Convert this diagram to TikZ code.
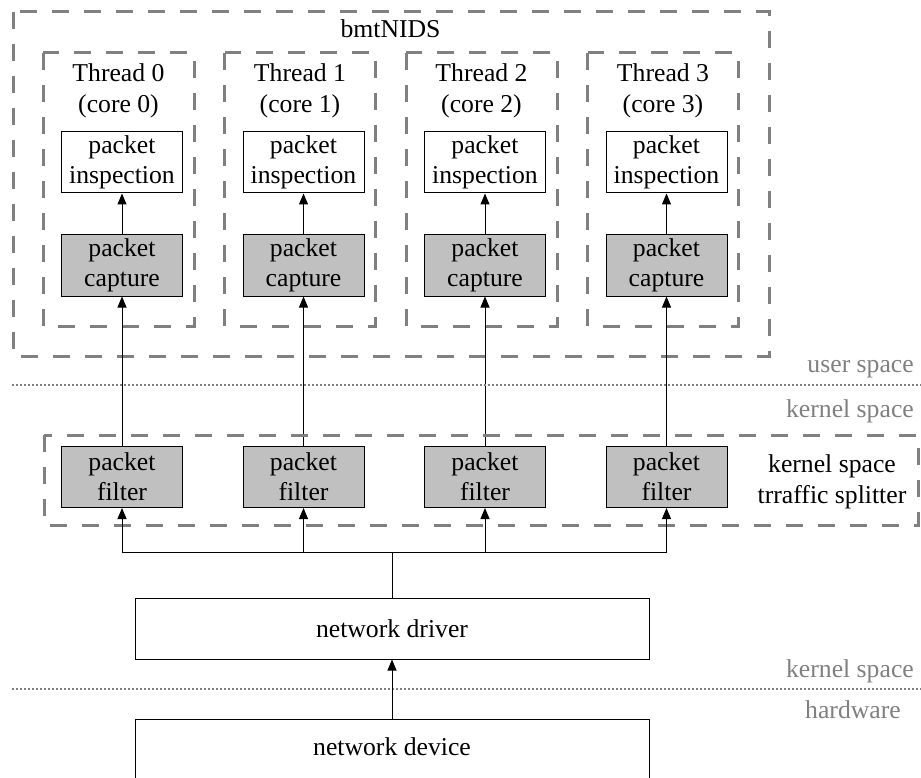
\documentclass[tikz,border=0pt]{standalone}
\usepackage{fontspec}
\setmainfont{Liberation Serif}
\usetikzlibrary{arrows.meta}
\definecolor{dashgray}{RGB}{128,128,128}
\definecolor{boxfill}{RGB}{192,192,192}
\begin{document}
\begin{tikzpicture}[x=1pt,y=-1pt,
  font=\fontsize{25.7}{30}\selectfont,
  box/.style={draw, line width=1pt, minimum width=121pt, minimum height=61pt, inner sep=0pt, align=center},
  graybox/.style={box, fill=boxfill},
  group/.style={draw=dashgray, line width=3pt, dash pattern=on 17pt off 15pt},
  sepline/.style={draw=dashgray, line width=2pt, dash pattern=on 2pt off 2pt},
  lbl/.style={text=dashgray, inner sep=0pt},
  thr/.style={align=center, inner sep=0pt, font=\fontsize{25.7}{31}\selectfont},
  arr/.style={-{Triangle[length=11pt,width=9pt]}, line width=1pt}]
\useasboundingbox (0,0) rectangle (921,778);
\clip (0,0) rectangle (921,778);

% outer bmtNIDS group
\draw[group] (13,12) rectangle (769,356);
\node[anchor=base, inner sep=0pt] (nids) at (390.5,38) {bmtNIDS};

% thread groups
\foreach \i in {0,1,2,3} {
  \pgfmathsetmacro{\tx}{43+181.5*\i}
  \pgfmathsetmacro{\cx}{122+181.5*\i}
  \pgfmathsetmacro{\lx}{118.5+181.5*\i}
  \draw[group] (\tx,53) rectangle ({\tx+151},326);
  \node[thr] (t\i) at (\lx,91) {Thread \i\\(core \i)};
  \node[box] (ins\i) at (\cx,162.5) {packet\\inspection};
  \node[graybox] (cap\i) at (\cx,265.5) {packet\\capture};
  \node[graybox] (fil\i) at (\cx,477) {packet\\filter};
  \draw[arr] (cap\i.north) -- (ins\i.south);
  \draw[arr] (fil\i.north) -- (cap\i.south);
}

% kernel space traffic splitter group
\draw[group] (44,435) rectangle (918,525);
\node[thr] (split) at (832,481.5) {kernel space\\trraffic splitter};

% separators
\draw[sepline] (12,385) -- (921,385);
\draw[sepline] (12,689) -- (921,689);
\node[lbl, anchor=base east] (us) at (914,372) {user space};
\node[lbl, anchor=base east] (ks1) at (914,417) {kernel space};
\node[lbl, anchor=base east] (ks2) at (914,677) {kernel space};
\node[lbl, anchor=base] (hw) at (853,718) {hardware};

% network driver and device
\node[box, minimum width=514pt] (drv) at (392,628.5) {network driver};
\node[draw, line width=1pt, minimum width=514pt, minimum height=100pt, anchor=north, inner sep=0pt] (dev) at (392,719) {};
\node (devlbl) at (392,747) {network device};

% distribution
\coordinate (bus) at (drv.north |- 0,552);
\draw[line width=1pt] (drv.north) -- (bus);
\foreach \i in {0,1,2,3} {
  \draw[arr] (bus) -| (fil\i.south);
}
\draw[arr] (dev.north) -- (drv.south);
\end{tikzpicture}
\end{document}
